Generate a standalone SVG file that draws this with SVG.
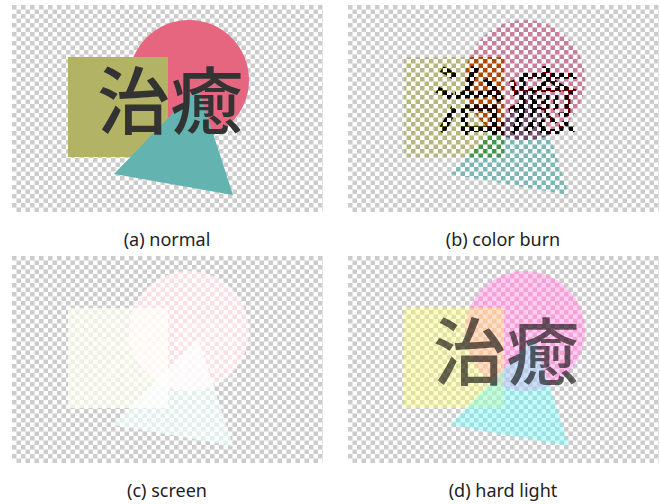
<svg xmlns="http://www.w3.org/2000/svg" width="660" height="504" viewBox="0 0 660 504">
<style>
.bg{fill:url(#chk)}
.r{fill:#b3b366}
.c{fill:#e6667f}
.t{fill:#63b3b0}
.tx{font-family:"Noto Sans CJK JP","Noto Sans CJK SC",sans-serif;font-size:73px;font-weight:500;fill:#333;text-anchor:middle}
.cap{font-family:"Noto Sans","DejaVu Sans",sans-serif;font-size:18px;fill:#222;text-anchor:middle}
.panel{isolation:isolate}
.burn{mix-blend-mode:color-burn}
.screen{mix-blend-mode:screen}
.hard{mix-blend-mode:hard-light}
</style>
<defs>
<pattern id="chk" width="9" height="9" patternUnits="userSpaceOnUse">
<rect width="9" height="9" fill="#fff"/>
<rect width="4.5" height="4.5" fill="#ccc"/>
<rect x="4.5" y="4.5" width="4.5" height="4.5" fill="#ccc"/>
</pattern>
</defs>
<rect width="660" height="504" fill="#fff"/>
<g id="panel-a" class="panel" transform="translate(12,5)">
<rect class="bg" width="311" height="207"/>
<circle class="c" cx="177" cy="75" r="60"/>
<rect class="r" x="56" y="52" width="100" height="100"/>
<polygon class="t" points="102,169 221,190 186,82"/>
<text class="tx" x="158" y="123">治癒</text>
</g>
<g id="panel-b" class="panel" transform="translate(348,5)">
<rect class="bg" width="311" height="207"/>
<circle class="c burn" cx="177" cy="75" r="60"/>
<rect class="r burn" x="56" y="52" width="100" height="100"/>
<polygon class="t burn" points="102,169 221,190 186,82"/>
<text class="tx burn" x="158" y="123">治癒</text>
</g>
<g id="panel-c" class="panel" transform="translate(12,256)">
<rect class="bg" width="311" height="207"/>
<circle class="c screen" cx="177" cy="75" r="60"/>
<rect class="r screen" x="56" y="52" width="100" height="100"/>
<polygon class="t screen" points="102,169 221,190 186,82"/>
<text class="tx screen" x="158" y="123">治癒</text>
</g>
<g id="panel-d" class="panel" transform="translate(348,256)">
<rect class="bg" width="311" height="207"/>
<circle class="c hard" cx="177" cy="75" r="60"/>
<rect class="r hard" x="56" y="52" width="100" height="100"/>
<polygon class="t hard" points="102,169 221,190 186,82"/>
<text class="tx hard" x="158" y="123">治癒</text>
</g>
<g id="captions">
<text class="cap" x="167" y="246">(a) normal</text>
<text class="cap" x="503" y="246">(b) color burn</text>
<text class="cap" x="167" y="497">(c) screen</text>
<text class="cap" x="503" y="497">(d) hard light</text>
</g>
</svg>
